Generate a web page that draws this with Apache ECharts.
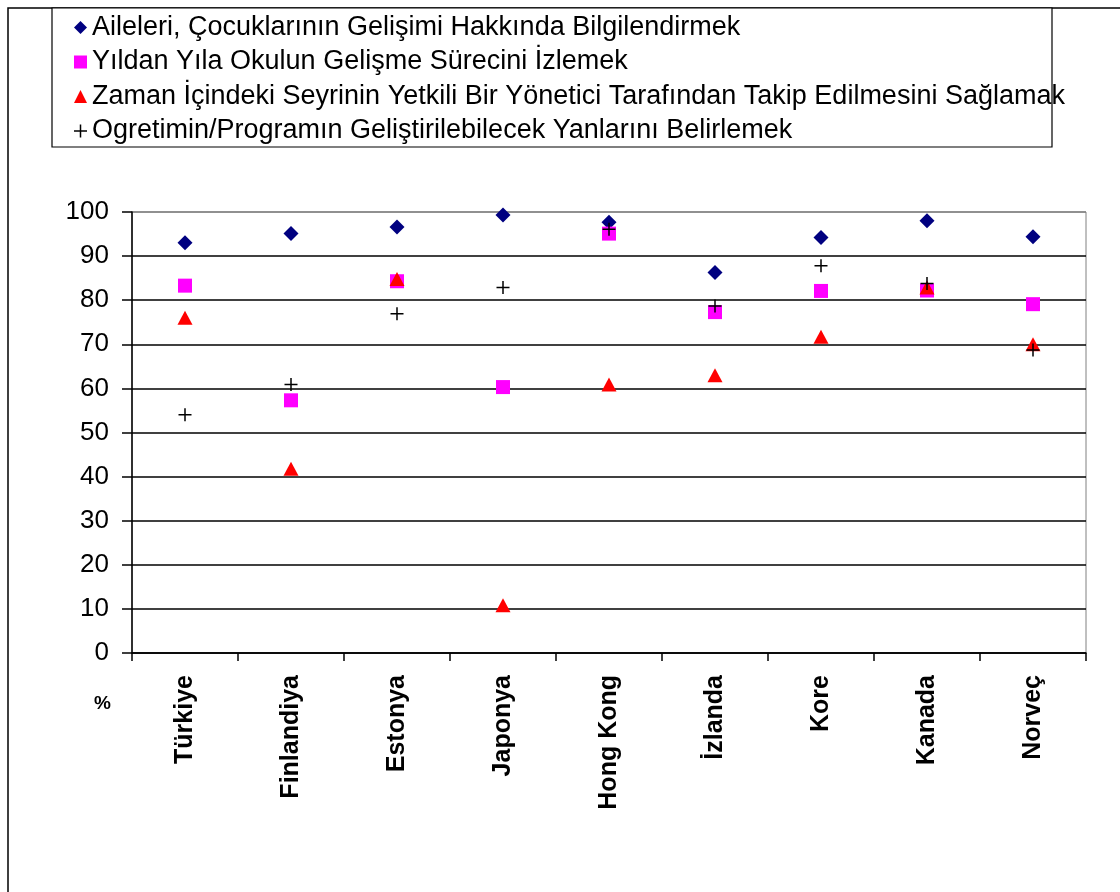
<!DOCTYPE html>
<html>
<head>
<meta charset="utf-8">
<script src="https://cdn.jsdelivr.net/npm/echarts@6/dist/echarts.min.js"></script>
<style>html,body{margin:0;padding:0;background:#fff}#c{width:1120px;height:892px}</style>
</head>
<body>
<div id="c"></div>
<script>
const categories = ['Türkiye','Finlandiya','Estonya','Japonya','Hong Kong','İzlanda','Kore','Kanada','Norveç'];
const seriesNames = [
  'Aileleri, Çocuklarının Gelişimi Hakkında Bilgilendirmek',
  'Yıldan Yıla Okulun Gelişme Sürecini İzlemek',
  'Zaman İçindeki Seyrinin Yetkili Bir Yönetici Tarafından Takip Edilmesini Sağlamak',
  'Ogretimin/Programın Geliştirilebilecek Yanlarını Belirlemek'
];
const aileleri = [93.0, 95.1, 96.6, 99.3, 97.7, 86.3, 94.2, 98.0, 94.4];
const yildan   = [83.3, 57.3, 84.3, 60.3, 95.1, 77.3, 82.1, 82.2, 79.1];
const zaman    = [76.0, 41.8, 84.8, 10.8, 60.9, 63.0, 71.7, 82.9, 70.0];
const ogretim  = [54.0, 60.9, 76.9, 82.9, 96.1, 78.7, 87.8, 83.8, 68.7];
const yTicks = [0,10,20,30,40,50,60,70,80,90,100];

const FONT = 'Liberation Sans, Arial, sans-serif';
const plusPath = 'path://M11.5,0h3v26h-3zM0,11.5h26v3h-26z';

const chart = echarts.init(document.getElementById('c'), null, {renderer:'canvas'});
const gridColors = yTicks.map((v,i)=> i===yTicks.length-1 ? '#808080' : '#000');
chart.setOption({
  animation:false,
  backgroundColor:'#fff',
  graphic:[
    {type:'rect', shape:{x:8,y:8,width:1140,height:920}, style:{fill:'none',stroke:'#000',lineWidth:1.5}, z:-10},
    {type:'rect', shape:{x:52,y:8,width:1000,height:139}, style:{fill:'#fff',stroke:'#000',lineWidth:1.2}, z:-5},
    {type:'text', left:94, top:694, style:{text:'%', font:'bold 19px '+FONT, fill:'#000'}}
  ],
  legend:{
    orient:'vertical', left:74, top:14, itemGap:7.5, padding:0,
    itemWidth:13, itemHeight:13,
    textStyle:{fontFamily:FONT, fontSize:27, lineHeight:27, color:'#000', padding:[0,0,0,0]},
    data:seriesNames
  },
  grid:{left:132, right:34, top:212, bottom:239, show:true, borderColor:'#808080', borderWidth:1},
  xAxis:{
    type:'category', data:categories, boundaryGap:true,
    axisLine:{lineStyle:{color:'#000',width:1.5}},
    axisTick:{show:true, length:8, interval:0, lineStyle:{color:'#000',width:1.5}},
    axisLabel:{rotate:90, interval:0, margin:22, fontFamily:FONT, fontSize:25, fontWeight:'bold', color:'#000'},
    splitLine:{show:false}
  },
  yAxis:{
    type:'value', min:0, max:100, interval:10,
    axisLine:{show:true, lineStyle:{color:'#000',width:1.5}},
    axisTick:{show:true, length:10, lineStyle:{color:'#000',width:1.5}},
    axisLabel:{margin:23, fontFamily:FONT, fontSize:26, color:'#000'},
    splitLine:{show:true, lineStyle:{color:gridColors, width:1.5}}
  },
  series:[
    {name:seriesNames[0], type:'scatter', data:aileleri, symbol:'diamond', symbolSize:[15,15], itemStyle:{color:'#000080', opacity:1}},
    {name:seriesNames[1], type:'scatter', data:yildan, symbol:'rect', symbolSize:14, itemStyle:{color:'#FF00FF', opacity:1}},
    {name:seriesNames[2], type:'scatter', data:zaman, symbol:'triangle', symbolSize:[15,14], itemStyle:{color:'#FF0000', opacity:1}},
    {name:seriesNames[3], type:'scatter', data:ogretim, symbol:plusPath, symbolSize:13, itemStyle:{color:'#000', opacity:1}}
  ]
});
</script>
</body>
</html>
